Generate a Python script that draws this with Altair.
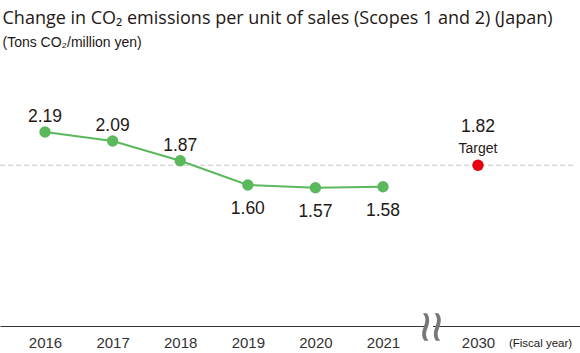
import altair as alt
import pandas as pd

years = ["2016", "2017", "2018", "2019", "2020", "2021"]
positions = [0, 1, 2, 3, 4, 5]
values = [2.19, 2.09, 1.87, 1.60, 1.57, 1.58]
label_above = [True, True, True, False, False, False]

target_year = "2030"
target_pos = 6.405
target_value = 1.82
break_pos = 5.695

axis_positions = positions + [target_pos]
axis_labels = years + [target_year]

df = pd.DataFrame({"pos": positions, "value": values, "year": years,
                   "label": [f"{v:.2f}" for v in values], "above": label_above})
tdf = pd.DataFrame({"pos": [target_pos], "value": [target_value],
                    "label": [f"{target_value:.2f}"], "tag": ["Target"]})

label_expr = " : ".join(
    [f"datum.value == {p} ? '{l}'" for p, l in zip(axis_positions, axis_labels)]) + " : ''"

TXT = "#231815"
FONT = "Liberation Sans"
GREEN = "#5bb85d"
RED = "#e60012"

xs = alt.Scale(domain=[-0.666, 7.914], nice=False, zero=False)
ys = alt.Scale(domain=[0.03, 2.992], nice=False, zero=False)

x_enc = alt.X("pos:Q", scale=xs, axis=alt.Axis(
    values=axis_positions, labelExpr=label_expr, ticks=False, grid=False,
    domainColor="#333333", domainWidth=1, labelFont=FONT, labelFontSize=15,
    labelFontWeight="normal", labelColor="#333333", labelPadding=9, labelFlush=False,
    labelOverlap=False, title=None))
y_enc = alt.Y("value:Q", scale=ys, axis=None)

base = alt.Chart(df)

ref = alt.Chart(tdf).mark_rule(color="#c8c8c8", strokeDash=[5, 3], strokeWidth=1).encode(
    y=y_enc, x=alt.value(0), x2=alt.value(575))

line = base.mark_line(color=GREEN, strokeWidth=2).encode(x=x_enc, y=y_enc)
pts = base.mark_circle(color=GREEN, size=130, opacity=1).encode(x=x_enc, y=y_enc)

lab_up = base.transform_filter("datum.above").mark_text(
    font=FONT, fontSize=17.5, color=TXT, dy=-15).encode(x=x_enc, y=y_enc, text="label:N")
lab_dn = base.transform_filter("!datum.above").mark_text(
    font=FONT, fontSize=17.5, color=TXT, dy=24).encode(x=x_enc, y=y_enc, text="label:N")

tbase = alt.Chart(tdf)
tpt = tbase.mark_circle(color=RED, size=130, opacity=1).encode(x=x_enc, y=y_enc)
tval = tbase.mark_text(font=FONT, fontSize=17.5, color=TXT, dy=-38).encode(
    x=x_enc, y=y_enc, text="label:N")
ttag = tbase.mark_text(font=FONT, fontSize=14, color=TXT, dy=-16).encode(
    x=x_enc, y=y_enc, text="tag:N")

brk = pd.DataFrame({"pos": [break_pos]})
bcut = alt.Chart(brk).mark_rule(color="white", strokeWidth=6).encode(
    x=x_enc, y=alt.value(256), y2=alt.value(276))
bwave = alt.Chart(brk).mark_text(text="≈", font="Liberation Sans", fontSize=56,
                                 color="#777777", angle=90, baseline="middle",
                                 align="center").encode(x=x_enc, y=alt.value(267))

fy = alt.Chart(pd.DataFrame({"pos": [7.33], "t": ["(Fiscal year)"]})).mark_text(
    font=FONT, fontSize=11.5, color=TXT, baseline="middle").encode(
    x=x_enc, y=alt.value(284), text="t:N")

chart = alt.layer(ref, line, pts, lab_up, lab_dn, tpt, tval, ttag, bcut, bwave, fy).properties(
    width=580, height=266, background="white",
    title=alt.TitleParams(
        text="Change in CO₂ emissions per unit of sales (Scopes 1 and 2) (Japan)",
        subtitle="(Tons CO₂/million yen)",
        anchor="start", dx=3, offset=10, font="Open Sans", fontSize=18, fontWeight="normal",
        color=TXT, subtitleFont=FONT, subtitleFontSize=14, subtitleColor=TXT,
        subtitlePadding=8),
    autosize=alt.AutoSizeParams(type="none"),
    padding={"left": 0, "top": 60, "right": 0, "bottom": 27},
).configure_view(strokeWidth=0, stroke=None)

chart.save("out.html", embed_options={"renderer": "svg", "actions": False})
